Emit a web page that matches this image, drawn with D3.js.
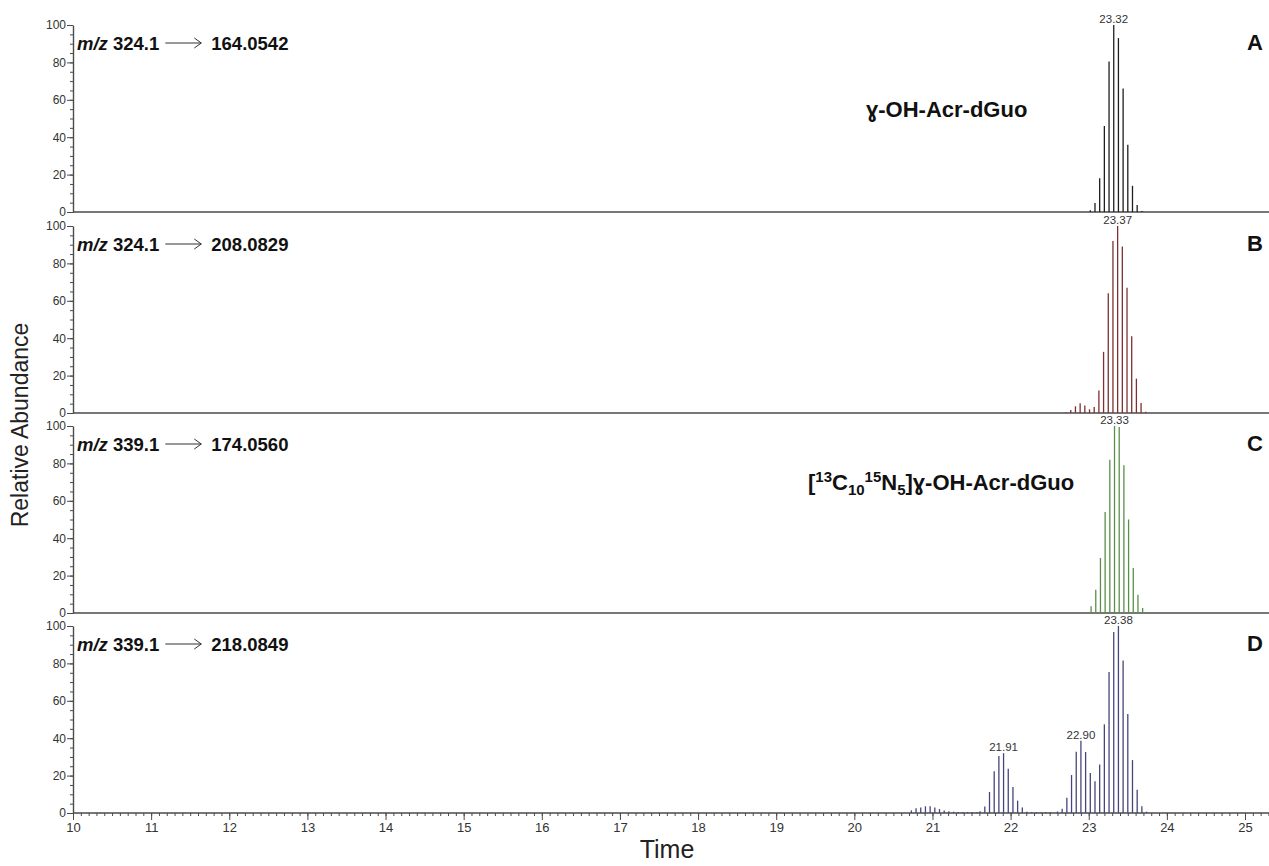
<!DOCTYPE html>
<html>
<head>
<meta charset="utf-8">
<script src="https://cdn.jsdelivr.net/npm/d3@7"></script>
<style>
body { margin: 0; background: #fff; }
svg { display: block; font-family: "Liberation Sans", Arial, sans-serif; }
</style>
</head>
<body>
<script>
// x軸ラベル (分)
var timeTicks = [10, 11, 12, 13, 14, 15, 16, 17, 18, 19, 20, 21, 22, 23, 24, 25];
var abundTicks = [0, 20, 40, 60, 80, 100];

// パネルA  m/z 324.1 -> 164.0542
var timeA = [23.02, 23.08, 23.14, 23.20, 23.26, 23.32, 23.38, 23.44, 23.50, 23.56, 23.62, 23.68];
var abundA = [1, 4.8, 18, 46, 80.5, 100, 93, 66, 36, 14, 3.7, 0.5];

// パネルB  m/z 324.1 -> 208.0829
var timeB = [22.71, 22.77, 22.83, 22.89, 22.95, 23.01, 23.07, 23.13, 23.19, 23.25, 23.31, 23.37,
             23.43, 23.49, 23.55, 23.61, 23.67, 23.73];
var abundB = [0.4, 1.6, 3.6, 5.2, 4, 2, 3.2, 12, 32.7, 64, 92, 100, 89, 67, 41, 18.4, 5.4, 0.7];

// パネルC  m/z 339.1 -> 174.0560
var timeC = [22.97, 23.03, 23.09, 23.15, 23.21, 23.27, 23.33, 23.39, 23.45, 23.51, 23.57, 23.63,
             23.69, 23.75, 23.81];
var abundC = [0.4, 3.6, 12.4, 29.4, 54, 82, 100, 99.5, 79, 50, 24, 9.7, 2.7, 0.5, 0.3];

// パネルD  m/z 339.1 -> 218.0849
var timeD = [20.73, 20.79, 20.85, 20.91, 20.97, 21.03, 21.09, 21.15, 21.21, 21.27, 21.33, 21.39,
             21.45, 21.51, 21.57, 21.61,
             21.67, 21.73, 21.79, 21.85, 21.91, 21.97, 22.03, 22.09, 22.15, 22.21,
             22.27, 22.33, 22.39, 22.45, 22.51, 22.60,
             22.66, 22.72, 22.78, 22.84, 22.90, 22.96, 23.02, 23.08, 23.14, 23.20, 23.26, 23.32,
             23.38, 23.44, 23.50, 23.56, 23.62, 23.68, 23.74];
var abundD = [1.4, 2.5, 2.9, 3.6, 3.6, 2.9, 2.1, 1.4, 0.9, 0.7, 0.6, 0.5,
              0.5, 0.5, 0.6, 0.9,
              3.5, 11.2, 22.3, 30.5, 32, 23.7, 13.9, 6.6, 2.9, 0.7,
              0.4, 0.5, 0.4, 0.5, 0.4, 0.8,
              2.3, 8.2, 20.3, 32.8, 38.7, 32.6, 21.4, 17, 26, 47.4, 75.4, 96.8,
              100, 81.5, 53, 28.3, 12.5, 3.6, 0.7];

var precursors = ["324.1", "324.1", "339.1", "339.1"];
var products = ["164.0542", "208.0829", "174.0560", "218.0849"];
var letters = ["A", "B", "C", "D"];
var peakLabels = [[23.32], [23.37], [23.33], [21.91, 22.90, 23.38]];
var stickColors = ["#1e1e1e", "#7e3030", "#5b8f48", "#45457e"];

var panels = [
    {t: timeA, v: abundA},
    {t: timeB, v: abundB},
    {t: timeC, v: abundC},
    {t: timeD, v: abundD}
];

var W = 1269, H = 866;
var panelTop = [25, 226, 426, 626], panelH = 187;
var axisColor = "#4a4a4a";

var svg = d3.select("body").append("svg")
    .attr("width", W)
    .attr("height", H);

var x = d3.scaleLinear().domain([10, 25]).range([73, 1245]);

panels.forEach(function(p, i) {
    var y = d3.scaleLinear().domain([0, 100]).range([panelTop[i] + panelH, panelTop[i]]);
    var g = svg.append("g");

    // ベースライン
    g.append("line")
        .attr("x1", x(10)).attr("x2", W)
        .attr("y1", y(0)).attr("y2", y(0))
        .attr("stroke", axisColor).attr("stroke-width", 1.4);

    // Y軸 (補助目盛)
    g.append("g")
        .attr("transform", "translate(" + x(10) + ",0)")
        .call(d3.axisLeft(y).tickValues(d3.range(0, 101, 5)).tickSize(3).tickFormat(""))
        .call(function(a) {
            a.select(".domain").remove();
            a.selectAll("line").attr("stroke", axisColor);
        });

    // Y軸 (主目盛)
    g.append("g")
        .attr("transform", "translate(" + x(10) + ",0)")
        .call(d3.axisLeft(y).tickValues(abundTicks).tickSize(6).tickPadding(1).tickSizeOuter(0))
        .call(function(a) {
            a.select(".domain").attr("stroke", axisColor).attr("stroke-width", 1.4);
            a.selectAll("line").attr("stroke", axisColor);
            a.selectAll("text").attr("fill", "#333").style("font-size", "12px")
                .style("font-family", "'Liberation Sans', Arial, sans-serif");
        });

    // スティック
    g.selectAll("line.stick")
        .data(d3.zip(p.t, p.v))
        .join("line")
        .attr("class", "stick")
        .attr("x1", function(d) { return x(d[0]); })
        .attr("x2", function(d) { return x(d[0]); })
        .attr("y1", y(0))
        .attr("y2", function(d) { return y(d[1]); })
        .attr("stroke", stickColors[i])
        .attr("stroke-width", 1.3);

    // ピーク時間
    peakLabels[i].forEach(function(t) {
        var k = p.t.indexOf(t);
        g.append("text")
            .attr("x", x(t))
            .attr("y", y(p.v[k]) - 2)
            .attr("text-anchor", "middle")
            .attr("fill", "#333")
            .style("font-size", "11.5px")
            .text(t.toFixed(2));
    });

    // m/z ラベル
    var base = panelTop[i] + 25;
    var lab = g.append("text")
        .attr("x", 77).attr("y", base)
        .style("font-size", "18.5px").style("font-weight", "bold")
        .attr("fill", "#111");
    lab.append("tspan").style("font-style", "italic").text("m/z");
    lab.append("tspan").text(" " + precursors[i]);
    var x0 = 77 + lab.node().getComputedTextLength() + 6;
    var x1 = x0 + 36, ay = base - 7;
    g.append("path")
        .attr("d", "M" + x0 + "," + ay + "H" + x1 + "M" + (x1 - 7) + "," + (ay - 5) + "L" + x1 + "," + ay + "L" + (x1 - 7) + "," + (ay + 5))
        .attr("fill", "none").attr("stroke", "#333").attr("stroke-width", 1);
    g.append("text")
        .attr("x", x1 + 10).attr("y", base)
        .style("font-size", "18.5px").style("font-weight", "bold")
        .attr("fill", "#111")
        .text(products[i]);

    // パネル記号
    g.append("text")
        .attr("x", 1255).attr("y", panelTop[i] + 25)
        .attr("text-anchor", "middle")
        .style("font-size", "22px").style("font-weight", "bold")
        .attr("fill", "#111")
        .text(letters[i]);

    // X軸 (最下段のみ)
    if (i === 3) {
        g.append("g")
            .attr("transform", "translate(0," + y(0) + ")")
            .call(d3.axisBottom(x).tickValues(d3.range(100, 254).map(function(d) { return d / 10; }))
                .tickSize(3).tickFormat(""))
            .call(function(a) {
                a.select(".domain").remove();
                a.selectAll("line").attr("stroke", axisColor);
            });
        g.append("g")
            .attr("transform", "translate(0," + y(0) + ")")
            .call(d3.axisBottom(x).tickValues(timeTicks).tickSize(7).tickPadding(3).tickFormat(d3.format("d")))
            .call(function(a) {
                a.select(".domain").remove();
                a.selectAll("line").attr("stroke", axisColor);
                a.selectAll("text").attr("fill", "#333").style("font-size", "13px")
                    .style("font-family", "'Liberation Sans', Arial, sans-serif");
            });
    }
});

// 化合物名
svg.append("text")
    .attr("x", 866).attr("y", 117)
    .style("font-size", "22px").style("font-weight", "bold")
    .attr("fill", "#111")
    .text("ɣ-OH-Acr-dGuo");

var cC = svg.append("text")
    .attr("x", 808).attr("y", 490)
    .style("font-size", "22px").style("font-weight", "bold")
    .attr("fill", "#111");
cC.append("tspan").text("[");
cC.append("tspan").attr("dy", -8).style("font-size", "15px").text("13");
cC.append("tspan").attr("dy", 8).text("C");
cC.append("tspan").attr("dy", 5).style("font-size", "15px").text("10");
cC.append("tspan").attr("dy", -13).style("font-size", "15px").text("15");
cC.append("tspan").attr("dy", 8).text("N");
cC.append("tspan").attr("dy", 5).style("font-size", "15px").text("5");
cC.append("tspan").attr("dy", -5).text("]ɣ-OH-Acr-dGuo");

// 軸タイトル
svg.append("text")
    .attr("transform", "translate(28,425) rotate(-90)")
    .attr("text-anchor", "middle")
    .style("font-size", "23px")
    .attr("fill", "#222")
    .text("Relative Abundance");

svg.append("text")
    .attr("x", 667).attr("y", 858)
    .attr("text-anchor", "middle")
    .style("font-size", "25px")
    .attr("fill", "#222")
    .text("Time");
</script>
</body>
</html>
